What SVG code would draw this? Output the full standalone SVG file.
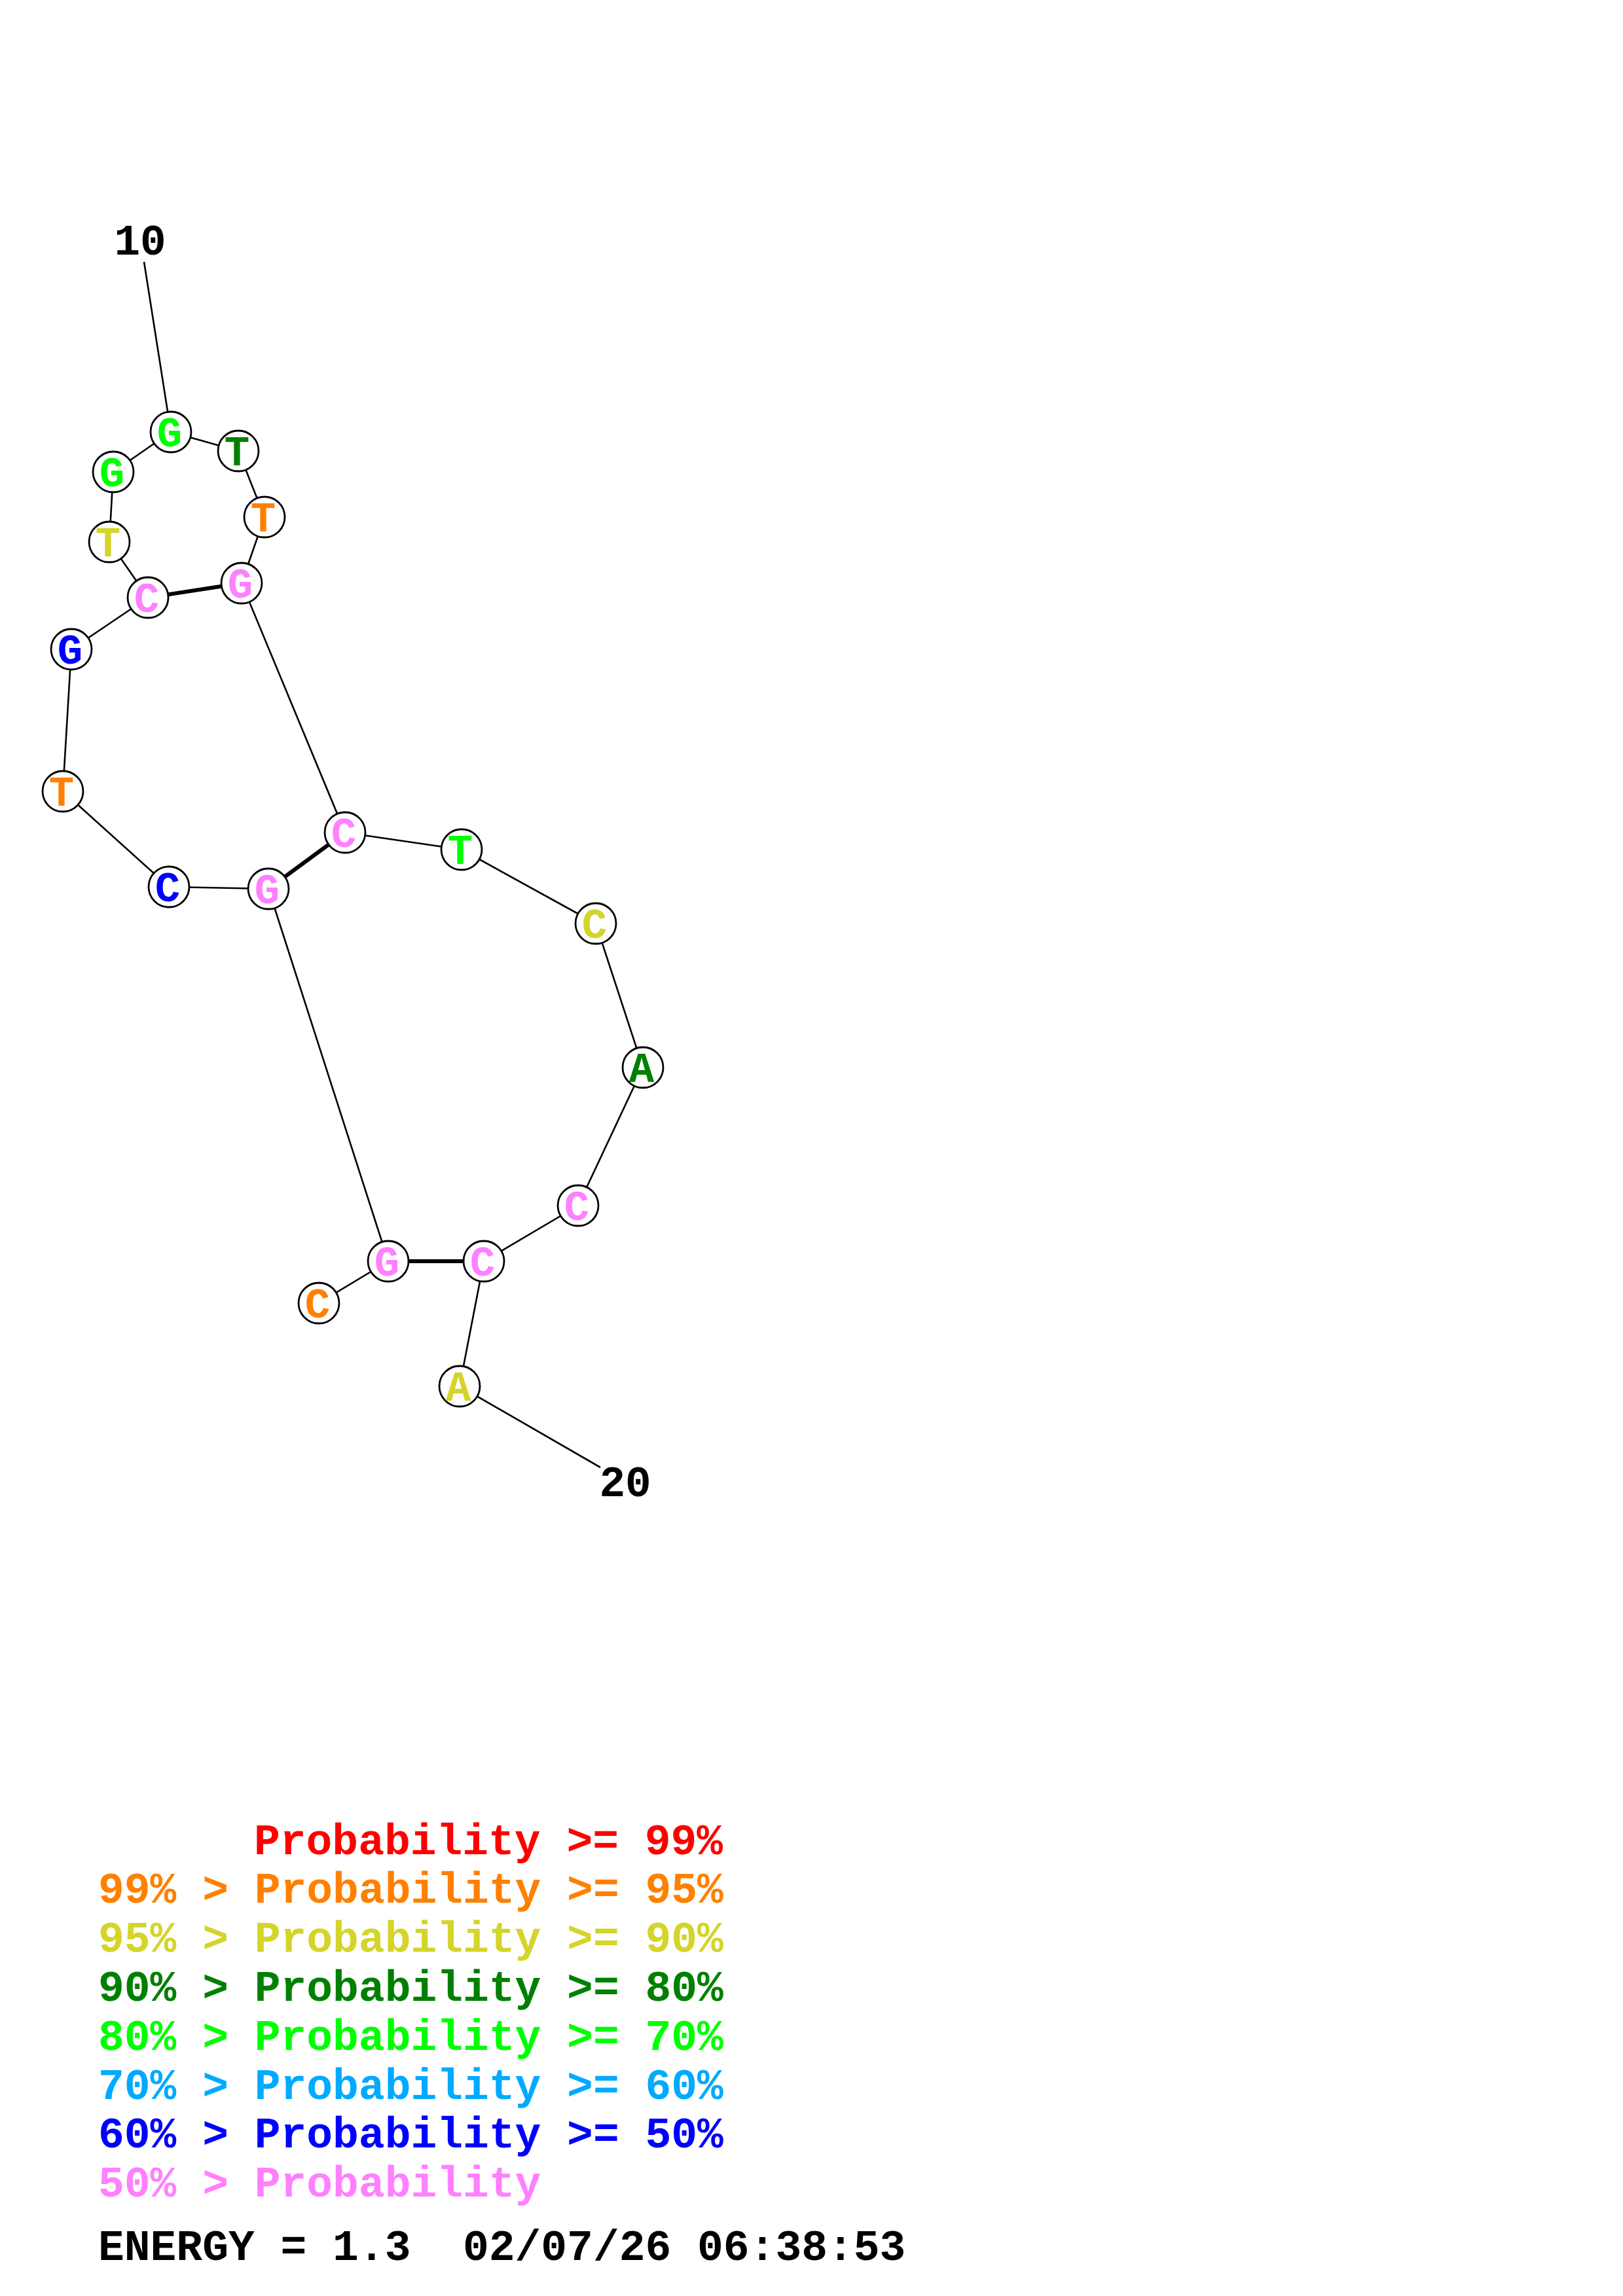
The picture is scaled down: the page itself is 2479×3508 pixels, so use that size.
<svg xmlns="http://www.w3.org/2000/svg" width="2479" height="3508" viewBox="0 0 2479 3508">
<style>
.bb{stroke:#000;stroke-width:2.6;fill:none}
.bp{stroke:#000;stroke-width:6;fill:none}
.nc{fill:#fff;stroke:#000;stroke-width:2.8}
.nt{font-family:"Liberation Mono","Courier New",monospace;font-weight:bold;font-size:64px;text-anchor:middle}
.lb{font-family:"Liberation Mono","Courier New",monospace;font-weight:bold;font-size:66px;fill:#000}
.lg{font-family:"Liberation Mono","Courier New",monospace;font-weight:bold;font-size:66.3px}
.red{fill:#FF0000}.org{fill:#FF8000}.yel{fill:#D4D42A}.dgr{fill:#008000}.grn{fill:#00FF00}.cya{fill:#00AAFF}.blu{fill:#0000FF}.pnk{fill:#FF80FF}
</style>
<rect width="2479" height="3508" fill="#fff"/>
<g id="connectors">
<line class="bb" x1="220" y1="400" x2="261" y2="660"/>
<line class="bb" x1="261" y1="660" x2="364" y2="689"/>
<line class="bb" x1="364" y1="689" x2="404" y2="790"/>
<line class="bb" x1="404" y1="790" x2="369" y2="891"/>
<line class="bb" x1="369" y1="891" x2="527" y2="1272"/>
<line class="bb" x1="261" y1="660" x2="173" y2="721"/>
<line class="bb" x1="173" y1="721" x2="167" y2="828"/>
<line class="bb" x1="167" y1="828" x2="226" y2="913"/>
<line class="bb" x1="226" y1="913" x2="109" y2="992"/>
<line class="bb" x1="109" y1="992" x2="96" y2="1209"/>
<line class="bb" x1="96" y1="1209" x2="258" y2="1355"/>
<line class="bb" x1="258" y1="1355" x2="410" y2="1358"/>
<line class="bb" x1="410" y1="1358" x2="593" y2="1927"/>
<line class="bb" x1="527" y1="1272" x2="705" y2="1298"/>
<line class="bb" x1="705" y1="1298" x2="910" y2="1411"/>
<line class="bb" x1="910" y1="1411" x2="982" y2="1631"/>
<line class="bb" x1="982" y1="1631" x2="883" y2="1842"/>
<line class="bb" x1="883" y1="1842" x2="739" y2="1927"/>
<line class="bb" x1="739" y1="1927" x2="702" y2="2118"/>
<line class="bb" x1="702" y1="2118" x2="917" y2="2242"/>
<line class="bb" x1="593" y1="1927" x2="487" y2="1991"/>
<line class="bp" x1="226" y1="913" x2="369" y2="891"/>
<line class="bp" x1="410" y1="1358" x2="527" y2="1272"/>
<line class="bp" x1="593" y1="1927" x2="739" y2="1927"/>
</g>
<g id="n1"><circle class="nc" cx="261" cy="660" r="31"/><text class="nt grn" x="259" y="682">G</text></g>
<g id="n2"><circle class="nc" cx="364" cy="689" r="31"/><text class="nt dgr" x="362" y="711">T</text></g>
<g id="n3"><circle class="nc" cx="404" cy="790" r="31"/><text class="nt org" x="402" y="812">T</text></g>
<g id="n4"><circle class="nc" cx="369" cy="891" r="31"/><text class="nt pnk" x="367" y="913">G</text></g>
<g id="n5"><circle class="nc" cx="226" cy="913" r="31"/><text class="nt pnk" x="224" y="935">C</text></g>
<g id="n6"><circle class="nc" cx="167" cy="828" r="31"/><text class="nt yel" x="165" y="850">T</text></g>
<g id="n7"><circle class="nc" cx="173" cy="721" r="31"/><text class="nt grn" x="171" y="743">G</text></g>
<g id="n8"><circle class="nc" cx="109" cy="992" r="31"/><text class="nt blu" x="107" y="1014">G</text></g>
<g id="n9"><circle class="nc" cx="96" cy="1209" r="31"/><text class="nt org" x="94" y="1231">T</text></g>
<g id="n10"><circle class="nc" cx="258" cy="1355" r="31"/><text class="nt blu" x="256" y="1377">C</text></g>
<g id="n11"><circle class="nc" cx="410" cy="1358" r="31"/><text class="nt pnk" x="408" y="1380">G</text></g>
<g id="n12"><circle class="nc" cx="527" cy="1272" r="31"/><text class="nt pnk" x="525" y="1294">C</text></g>
<g id="n13"><circle class="nc" cx="705" cy="1298" r="31"/><text class="nt grn" x="703" y="1320">T</text></g>
<g id="n14"><circle class="nc" cx="910" cy="1411" r="31"/><text class="nt yel" x="908" y="1433">C</text></g>
<g id="n15"><circle class="nc" cx="982" cy="1631" r="31"/><text class="nt dgr" x="980" y="1653">A</text></g>
<g id="n16"><circle class="nc" cx="883" cy="1842" r="31"/><text class="nt pnk" x="881" y="1864">C</text></g>
<g id="n17"><circle class="nc" cx="739" cy="1927" r="31"/><text class="nt pnk" x="737" y="1949">C</text></g>
<g id="n18"><circle class="nc" cx="593" cy="1927" r="31"/><text class="nt pnk" x="591" y="1949">G</text></g>
<g id="n19"><circle class="nc" cx="487" cy="1991" r="31"/><text class="nt org" x="485" y="2013">C</text></g>
<g id="n20"><circle class="nc" cx="702" cy="2118" r="31"/><text class="nt yel" x="700" y="2140">A</text></g>
<g id="labels">
<text class="lb" x="214" y="389" text-anchor="middle">10</text>
<text class="lb" x="955" y="2286" text-anchor="middle">20</text>
</g>
<g id="legend">
<text class="lg red" x="388" y="2833">Probability &gt;= 99%</text>
<text class="lg org" x="150" y="2907">99% &gt; Probability &gt;= 95%</text>
<text class="lg yel" x="150" y="2982">95% &gt; Probability &gt;= 90%</text>
<text class="lg dgr" x="150" y="3057">90% &gt; Probability &gt;= 80%</text>
<text class="lg grn" x="150" y="3132">80% &gt; Probability &gt;= 70%</text>
<text class="lg cya" x="150" y="3207">70% &gt; Probability &gt;= 60%</text>
<text class="lg blu" x="150" y="3281">60% &gt; Probability &gt;= 50%</text>
<text class="lg pnk" x="150" y="3356">50% &gt; Probability</text>
<text class="lg" fill="#000" x="150" y="3453" xml:space="preserve">ENERGY = 1.3  02/07/26 06:38:53</text>
</g>
</svg>
